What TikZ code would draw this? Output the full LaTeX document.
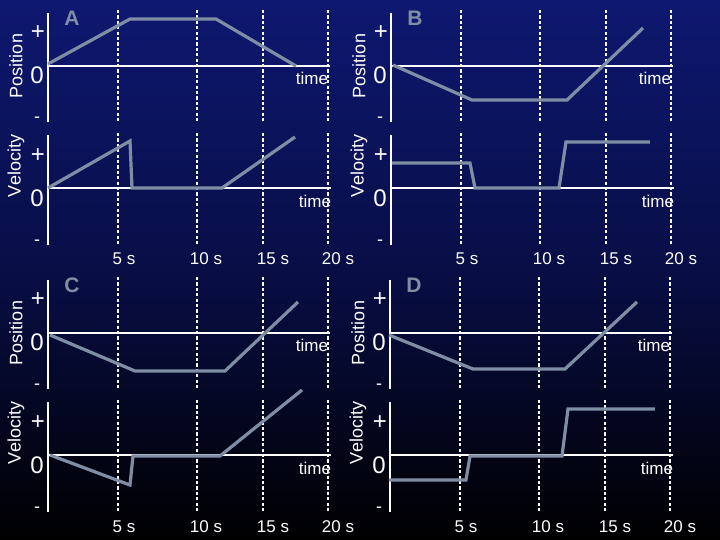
\documentclass[tikz,border=0pt]{standalone}
\usepackage{fontspec}
\setmainfont{Liberation Sans}
\begin{document}
\begin{tikzpicture}[x=0.5pt,y=-0.5pt,
  curve/.style={line width=1.6pt,draw={rgb,255:red,128;green,142;blue,165},line join=miter},
  ax/.style={white,line width=1pt},
  dsh/.style={white,line width=1pt,dash pattern=on 1.6pt off 1.1pt},
  sym/.style={white,font=\fontsize{12}{12}\selectfont,inner sep=0pt},
  ylab/.style={white,rotate=90,font=\fontsize{9}{9}\selectfont,inner sep=0pt},
  tlab/.style={white,font=\fontsize{8.5}{9}\selectfont,inner sep=0pt},
  tick/.style={white,font=\fontsize{8.5}{9}\selectfont,inner sep=0pt},
  letter/.style={text={rgb,255:red,128;green,142;blue,165},font=\fontsize{10.5}{11}\bfseries\selectfont,inner sep=0pt}]
\fill[top color={rgb,255:red,14;green,24;blue,112},bottom color=black,middle color={rgb,255:red,8;green,14;blue,70}] (0pt,0pt) rectangle (360pt,-270pt);
\useasboundingbox (0pt,0pt) rectangle (360pt,-270pt);
\newcommand\mypanel[4]{%
 \begin{scope}[shift={(#2,#3)}]
  \foreach \xx in {118,197,263,328}{
    \draw[dsh] (\xx,10) -- (\xx,122);
    \draw[dsh] (\xx,133) -- (\xx,245);}
  \draw[ax] (48,13) -- (48,122);
  \draw[ax] (48,135) -- (48,245);
  \draw[ax] (48,66) -- (330,66);
  \draw[ax] (48,188) -- (331,188);
  \node[ylab] (#1py) at (16,66) {Position};
  \node[ylab] (#1vy) at (16,166) {Velocity};
  \node[sym] (#1pp) at (38,33) {+};
  \node[sym] (#1p0) at (37,75) {0};
  \node[sym,font=\fontsize{9}{9}\selectfont] (#1pm) at (37,120) {-};
  \node[sym] (#1vp) at (38,156) {+};
  \node[sym] (#1v0) at (37,198) {0};
  \node[sym,font=\fontsize{9}{9}\selectfont] (#1vm) at (37,243) {-};
  \node[tlab] (#1pt) at (312,78) {time};
  \node[tlab] (#1vt) at (315,201) {time};
  \node[letter] (#1L) at (72,18) {#4};
 \end{scope}}
\mypanel{a}{0}{0}{A}
\mypanel{b}{343}{0}{B}
\mypanel{c}{0}{267}{C}
\mypanel{d}{342}{267}{D}
% tick labels
\foreach \dx/\dy/\p in {0/0/a,343/0/b,0/268/c,342/268/d}{
  \node[tick] (\p t5) at (124+\dx,259+\dy) {5 s};
  \node[tick] (\p t10) at (206+\dx,259+\dy) {10 s};
  \node[tick] (\p t15) at (273+\dx,259+\dy) {15 s};
  \node[tick] (\p t20) at (338+\dx,259+\dy) {20 s};}
% curves A
\draw[curve] (48,64) -- (130,19) -- (216,19) -- (296,66);
\draw[curve] (48,188) -- (130,141) -- (132,188) -- (222,188) -- (295,137);
% B
\begin{scope}[shift={(343,0)}]
\draw[curve] (50,65) -- (129,100) -- (224,100) -- (300,28);
\draw[curve] (49,163) -- (127,163) -- (132,188) -- (216,188) -- (223,142) -- (307,142);
\end{scope}
% C
\begin{scope}[shift={(0,267)}]
\draw[curve] (50,68) -- (135,104) -- (225,104) -- (298,35);
\draw[curve] (50,188) -- (130,218) -- (133,189) -- (220,189) -- (302,123);
\end{scope}
% D
\begin{scope}[shift={(342,267)}]
\draw[curve] (47,68) -- (131,102) -- (223,102) -- (295,35);
\draw[curve] (47,213) -- (124,213) -- (128,189) -- (220,189) -- (226,142) -- (313,142);
\end{scope}
\end{tikzpicture}
\end{document}
